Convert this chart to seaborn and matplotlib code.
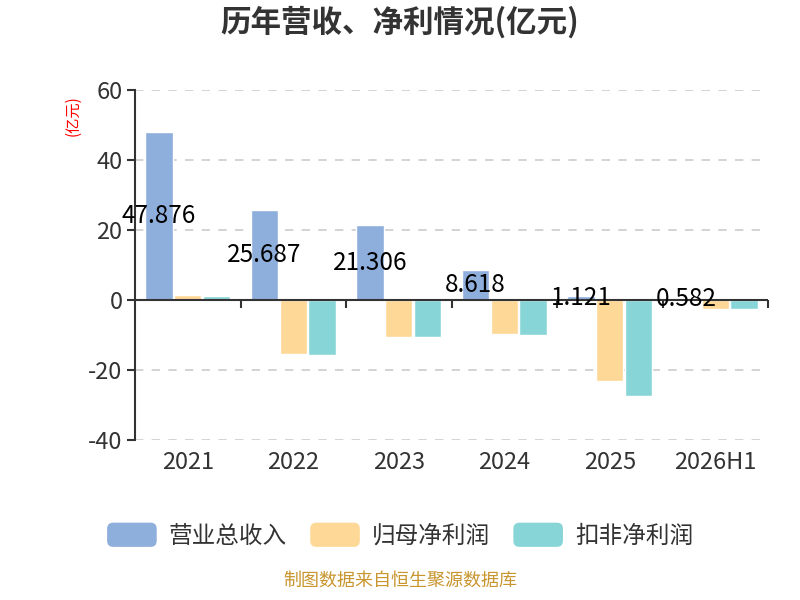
import matplotlib
matplotlib.use("Agg")
import matplotlib.pyplot as plt
import seaborn as sns
import pandas as pd
from matplotlib.patches import FancyBboxPatch, Patch
from matplotlib.legend_handler import HandlerPatch

categories = ["2021", "2022", "2023", "2024", "2025", "2026H1"]
series_names = ["营业总收入", "归母净利润", "扣非净利润"]
revenue = [47.876, 25.687, 21.306, 8.618, 1.121, 0.582]
net_profit = [1.4, -15.5, -10.7, -9.6, -23.1, -2.6]
deducted_profit = [1.1, -15.6, -10.5, -9.9, -27.5, -2.6]
colors = ["#8eaedb", "#fed897", "#88d5d8"]
yticks = [-40, -20, 0, 20, 40, 60]

sns.set_theme(style="white")
plt.rcParams['font.family'] = ['Noto Sans CJK SC', 'DejaVu Sans']
plt.rcParams['axes.unicode_minus'] = False

df = pd.DataFrame({
    "year": categories * 3,
    "series": [series_names[0]] * 6 + [series_names[1]] * 6 + [series_names[2]] * 6,
    "value": revenue + net_profit + deducted_profit,
})

fig = plt.figure(figsize=(8, 6), dpi=100)
ax = fig.add_axes([0.16875, 0.2667, 0.79125, 0.5833])

sns.barplot(data=df, x="year", y="value", hue="series", order=categories,
            hue_order=series_names, palette=colors, width=0.82, gap=0.05,
            saturation=1, ax=ax, legend=False)

ax.set_xlim(-0.5, len(categories) - 0.5)
ax.set_ylim(-40, 60)
ax.set_yticks(yticks)
ax.set_xlabel("")
ax.set_ylabel("")
ax.grid(axis='y', linestyle=(0, (5, 5)), color="#cccccc", linewidth=1.2)
ax.set_axisbelow(True)

for s in ["top", "right", "bottom"]:
    ax.spines[s].set_visible(False)
ax.spines["left"].set_color("#333333")
ax.spines["left"].set_linewidth(1.5)
ax.tick_params(axis='y', which='both', direction='out', length=6, width=1.5,
               color="#333333", labelsize=17, labelcolor="#333333", pad=3, left=True)
ax.tick_params(axis='x', length=0, labelsize=17, labelcolor="#333333", pad=8)

# zero baseline with boundary ticks
ax.axhline(0, color="#333333", linewidth=1.5, zorder=3)
sec = ax.secondary_xaxis(40 / 100)
sec.set_xticks([i - 0.5 for i in range(1, len(categories) + 1)])
sec.set_xticklabels([])
sec.tick_params(direction='out', length=6, width=1.5, color="#333333")
sec.spines["bottom"].set_visible(False)

# value labels for revenue
cont = ax.containers[0]
ax.bar_label(cont, labels=[f"{v:g}" for v in revenue], label_type='center',
             fontsize=17.5, color="#000000")

fig.text(0.5, 0.962, "历年营收、净利情况(亿元)", ha='center', va='center',
         fontsize=22, fontweight='bold', color="#333333")
fig.text(0.091, 0.808, "(亿元)", ha='center', va='center', rotation=90,
         fontsize=11, color="red")
fig.text(0.5, 0.017, "制图数据来自恒生聚源数据库", ha='center', va='bottom',
         fontsize=13, color="#c8952e")


class RoundHandler(HandlerPatch):
    def create_artists(self, legend, orig_handle, xdescent, ydescent, width,
                       height, fontsize, trans):
        p = FancyBboxPatch((-xdescent, -ydescent), width, height,
                           boxstyle="round,pad=0,rounding_size=%f" % (height * 0.25),
                           facecolor=orig_handle.get_facecolor(), edgecolor='none',
                           transform=trans)
        return [p]


handles = [Patch(facecolor=c, label=n) for c, n in zip(colors, series_names)]
fig.legend(handles=handles, loc='center', bbox_to_anchor=(0.5, 0.108), ncol=3,
           frameon=False, fontsize=17, handlelength=2.1, handleheight=1.2,
           handletextpad=0.5, columnspacing=1.0, labelcolor="#333333",
           handler_map={Patch: RoundHandler()})

fig.savefig("out.png", dpi=100)
